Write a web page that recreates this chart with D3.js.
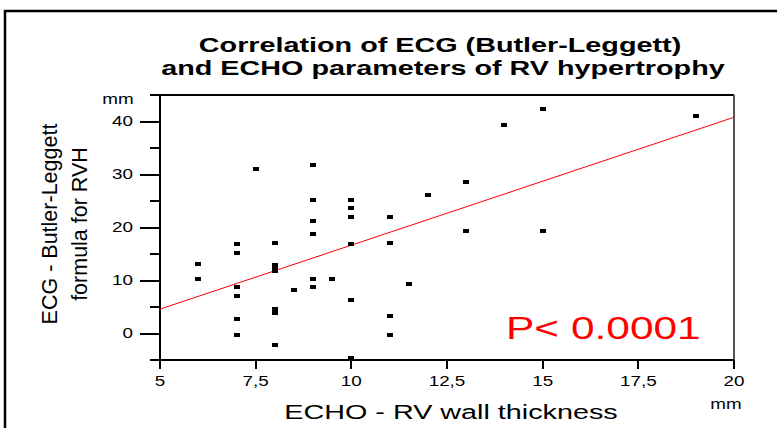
<!DOCTYPE html>
<html>
<head>
<meta charset="utf-8">
<script src="https://cdn.jsdelivr.net/npm/d3@7"></script>
<style>
  body { margin: 0; background: #fff; }
  svg { display: block; font-family: 'Liberation Sans', Arial, sans-serif; }
</style>
</head>
<body>
<svg id="chart" width="777" height="428"></svg>
<script>
// ECHO RV wall thickness (mm) vs ECG Butler-Leggett (mm)
const echoThickness = [6, 6,
    7, 7, 7, 7, 7, 7,
    7.5,
    8, 8, 8, 8, 8, 8, 8,
    8.5,
    9, 9, 9, 9, 9, 9,
    9.5,
    10, 10, 10, 10, 10, 10,
    11, 11, 11, 11,
    11.5,
    12,
    13, 13,
    14,
    15, 15,
    19]
const ecgButlerLeggett = [13.2, 10.2,
    16.8, 15.1, 8.8, 7.1, 2.7, -0.3,
    31.1,
    17.1, 13.0, 12.4, 11.8, 4.6, 3.8, -2.2,
    8.2,
    31.7, 25.1, 21.2, 18.7, 10.2, 8.8,
    10.2,
    25.1, 23.6, 22.0, 16.8, 6.3, -4.6,
    22.0, 17.1, 3.3, -0.3,
    9.3,
    26.1,
    28.6, 19.3,
    39.4,
    42.4, 19.3,
    41.1]
// regression line end points
const fitX = [5, 20]
const fitY = [4.6, 40.8]

const xTicks = [5, 7.5, 10, 12.5, 15, 17.5, 20]
const yTicks = [0, 10, 20, 30, 40]
const yMinorTicks = [-5, 5, 15, 25, 35, 45]

const titleLines = ['Correlation of ECG (Butler-Leggett)', 'and ECHO parameters of RV hypertrophy']
const yLabelLines = ['ECG - Butler-Leggett', 'formula for RVH']
const xLabel = 'ECHO - RV wall thickness'
const pLabel = 'P< 0.0001'

const stretch = 1.37
const tickStretch = 1.3
const tickFont = '14.5px'
let svg = d3.select('#chart')

let xScale = d3.scaleLinear()
    .domain([5, 20])
    .range([160, 734])
let yScale = d3.scaleLinear()
    .domain([-5, 45])
    .range([360, 95])

function stretchedText(x, y, str, size, anchor = 'middle', weight = 'normal', fill = '#000', s = stretch) {
    return svg.append('text')
        .attr('transform', `translate(${x}, ${y}) scale(${s}, 1)`)
        .attr('text-anchor', anchor)
        .style('font-size', size + 'px')
        .style('font-weight', weight)
        .style('fill', fill)
        .text(str)
}

//outer frame (top and left only)
svg.append('path')
    .attr('d', 'M5,428 V11 H777')
    .attr('fill', 'none')
    .attr('stroke', '#000')
    .attr('stroke-width', 2.5)

//title
stretchedText(440, 52, titleLines[0], 21, 'middle', 'bold')
stretchedText(443, 75, titleLines[1], 21, 'middle', 'bold')

//plot box top and right
svg.append('line')
    .attr('x1', 160).attr('x2', 734)
    .attr('y1', 95).attr('y2', 95)
    .attr('stroke', '#000')
    .attr('stroke-width', 2)
    .attr('shape-rendering', 'crispEdges')
svg.append('line')
    .attr('x1', 734).attr('x2', 734)
    .attr('y1', 95).attr('y2', 360)
    .attr('stroke', '#555')
    .attr('stroke-width', 2)
    .attr('shape-rendering', 'crispEdges')

//y axis
let yAxis = d3.axisLeft(yScale)
    .tickValues(yTicks)
    .tickSize(20)
    .tickSizeOuter(0)
    .offset(0)
let yAxisG = svg.append('g')
    .attr('transform', `translate(160, 0)`)
    .call(yAxis)
yAxisG.selectAll('text')
    .attr('x', null)
    .attr('transform', `translate(-27, 0) scale(${tickStretch}, 1)`)
    .style('font-size', tickFont)
    .style('font-family', "'Liberation Sans', Arial, sans-serif")
    .style('fill', '#000')
let yMinor = d3.axisLeft(yScale)
    .tickValues(yMinorTicks)
    .tickSize(10)
    .tickSizeOuter(0)
    .offset(0)
    .tickFormat('')
svg.append('g')
    .attr('transform', `translate(160, 0)`)
    .call(yMinor)
    .select('.domain').remove()

//x axis
let xAxis = d3.axisBottom(xScale)
    .tickValues(xTicks)
    .tickSize(9)
    .tickSizeOuter(0)
    .offset(0)
    .tickFormat(d => String(d).replace('.', ','))
let xAxisG = svg.append('g')
    .attr('transform', `translate(0, 360)`)
    .call(xAxis)
xAxisG.selectAll('text')
    .attr('y', null)
    .attr('dy', null)
    .attr('transform', `translate(0, 26) scale(${tickStretch}, 1)`)
    .style('font-size', tickFont)
    .style('font-family', "'Liberation Sans', Arial, sans-serif")
    .style('fill', '#000')

svg.selectAll('.tick line, .domain')
    .attr('stroke', '#000')
    .attr('stroke-width', 2)
    .attr('shape-rendering', 'crispEdges')

//units
stretchedText(118, 104, 'mm', 14.5, 'middle', 'normal', '#000', tickStretch)
stretchedText(726, 409, 'mm', 14.5, 'middle', 'normal', '#000', tickStretch)

//regression line
svg.append('line')
    .attr('x1', xScale(fitX[0])).attr('y1', yScale(fitY[0]))
    .attr('x2', xScale(fitX[1])).attr('y2', yScale(fitY[1]))
    .attr('stroke', '#ff0000')
    .attr('stroke-width', 1)

//markers
svg.selectAll('.marker')
    .data(echoThickness)
    .enter()
    .append('rect')
    .attr('class', 'marker')
    .attr('x', (d, i) => xScale(d) - 3)
    .attr('y', (d, i) => yScale(ecgButlerLeggett[i]) - 2)
    .attr('width', 6)
    .attr('height', 4)
    .attr('shape-rendering', 'crispEdges')
    .style('fill', '#000')

//axis labels
stretchedText(451, 419, xLabel, 21)
svg.append('text')
    .attr('transform', `translate(57, 224) rotate(-90)`)
    .attr('text-anchor', 'middle')
    .style('font-size', '21.5px')
    .text(yLabelLines[0])
svg.append('text')
    .attr('transform', `translate(87, 224) rotate(-90)`)
    .attr('text-anchor', 'middle')
    .style('font-size', '21.5px')
    .text(yLabelLines[1])

//p value
stretchedText(506, 339, pLabel, 31, 'start', 'normal', '#ff0000')
</script>
</body>
</html>
